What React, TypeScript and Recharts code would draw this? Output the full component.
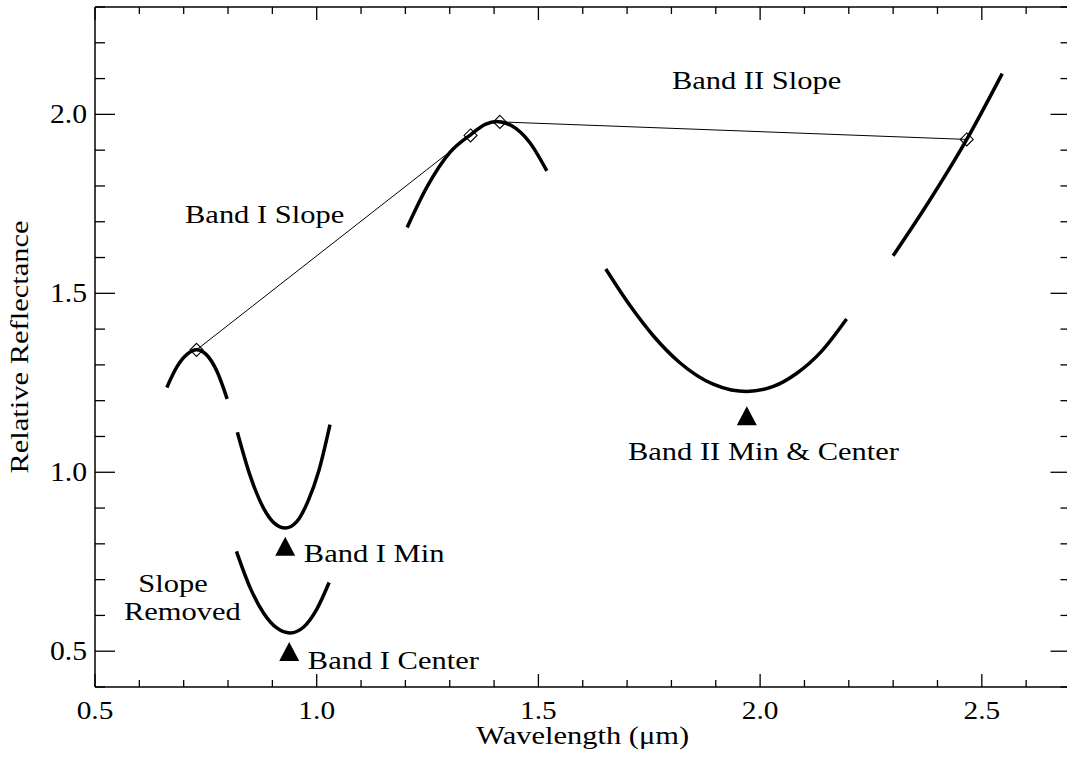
import * as React from 'react';
import { ComposedChart, Line, Scatter, XAxis, YAxis } from 'recharts';

const xTicks = [0.5, 0.6, 0.7, 0.8, 0.9, 1.0, 1.1, 1.2, 1.3, 1.4, 1.5, 1.6, 1.7, 1.8, 1.9, 2.0, 2.1, 2.2, 2.3, 2.4, 2.5, 2.6, 2.7];
const yTicks = [0.4, 0.5, 0.6, 0.7, 0.8, 0.9, 1.0, 1.1, 1.2, 1.3, 1.4, 1.5, 1.6, 1.7, 1.8, 1.9, 2.0, 2.1, 2.2, 2.3];

// spectrum pieces (wavelength in um, relative reflectance)
const bandIShoulder = [
  { x: 0.662, y: 1.237 }, { x: 0.685, y: 1.295 }, { x: 0.708, y: 1.330 }, { x: 0.729, y: 1.342 },
  { x: 0.750, y: 1.330 }, { x: 0.775, y: 1.282 }, { x: 0.798, y: 1.205 },
];
const bandIAbsorption = [
  { x: 0.821, y: 1.112 }, { x: 0.850, y: 0.990 }, { x: 0.880, y: 0.900 }, { x: 0.905, y: 0.857 },
  { x: 0.929, y: 0.844 }, { x: 0.955, y: 0.862 }, { x: 0.980, y: 0.918 }, { x: 1.005, y: 1.005 },
  { x: 1.030, y: 1.133 },
];
const bandIRemoved = [
  { x: 0.819, y: 0.779 }, { x: 0.850, y: 0.677 }, { x: 0.880, y: 0.607 }, { x: 0.910, y: 0.565 },
  { x: 0.940, y: 0.551 }, { x: 0.970, y: 0.567 }, { x: 1.000, y: 0.617 }, { x: 1.028, y: 0.692 },
];
const midShoulder = [
  { x: 1.204, y: 1.684 }, { x: 1.250, y: 1.800 }, { x: 1.300, y: 1.893 }, { x: 1.347, y: 1.943 },
  { x: 1.380, y: 1.972 }, { x: 1.406, y: 1.980 }, { x: 1.440, y: 1.968 }, { x: 1.480, y: 1.922 },
  { x: 1.519, y: 1.842 },
];
const bandIIAbsorption = [
  { x: 1.652, y: 1.568 }, { x: 1.707, y: 1.465 }, { x: 1.760, y: 1.380 }, { x: 1.819, y: 1.306 },
  { x: 1.894, y: 1.246 }, { x: 1.935, y: 1.230 }, { x: 1.970, y: 1.226 }, { x: 2.030, y: 1.240 },
  { x: 2.082, y: 1.276 }, { x: 2.140, y: 1.340 }, { x: 2.195, y: 1.428 },
];
const longShoulder = [
  { x: 2.300, y: 1.605 }, { x: 2.380, y: 1.755 }, { x: 2.466, y: 1.930 }, { x: 2.546, y: 2.114 },
];

const bandISlope = [{ x: 0.729, y: 1.342 }, { x: 1.347, y: 1.941 }];
const bandIISlope = [{ x: 1.413, y: 1.979 }, { x: 2.466, y: 1.930 }];

const centerMarks = [{ x: 0.929, y: 0.793 }, { x: 0.938, y: 0.499 }, { x: 1.970, y: 1.158 }];

const notes = [
  { x: 0.703, y: 1.697, text: 'Band I Slope', anchor: 'start' },
  { x: 1.801, y: 2.071, text: 'Band II Slope', anchor: 'start' },
  { x: 1.702, y: 1.035, text: 'Band II Min & Center', anchor: 'start' },
  { x: 0.971, y: 0.750, text: 'Band I Min', anchor: 'start' },
  { x: 0.980, y: 0.451, text: 'Band I Center', anchor: 'start' },
  { x: 0.676, y: 0.666, text: 'Slope', anchor: 'middle' },
  { x: 0.697, y: 0.588, text: 'Removed', anchor: 'middle' },
];

const FONT = '"Liberation Serif", "Times New Roman", serif';
const INK = '#000';

const Stretched = ({ x, y, anchor = 'start', rotate = 0, size = 25, stretch = 1.22, children }: any) => (
  <text
    transform={`translate(${x} ${y})${rotate ? ` rotate(${rotate})` : ''} scale(${stretch} 1)`}
    textAnchor={anchor}
    fontFamily={FONT}
    fontSize={size}
    fill={INK}
  >
    {children}
  </text>
);

const isMajor = (v: number) => Math.abs(v * 2 - Math.round(v * 2)) < 1e-6;

const BottomTick = ({ x, y, payload }: any) => {
  const major = isMajor(payload.value);
  return (
    <g>
      <line x1={x} y1={y} x2={x} y2={y - (major ? 13 : 7)} stroke={INK} strokeWidth={1.3} />
      {major && (
        <Stretched x={x} y={y + 32} anchor="middle" size={26} stretch={1.13}>{payload.value.toFixed(1)}</Stretched>
      )}
    </g>
  );
};

const TopTick = ({ x, y, payload }: any) => (
  <line x1={x} y1={y} x2={x} y2={y + (isMajor(payload.value) ? 13 : 7)} stroke={INK} strokeWidth={1.3} />
);

const LeftTick = ({ x, y, payload }: any) => {
  const major = isMajor(payload.value);
  return (
    <g>
      <line x1={x} y1={y} x2={x + (major ? 20 : 10)} y2={y} stroke={INK} strokeWidth={1.3} />
      {major && (
        <Stretched x={x - 8} y={y + 9} anchor="end" size={27} stretch={1.1}>{payload.value.toFixed(1)}</Stretched>
      )}
    </g>
  );
};

const RightTick = ({ x, y, payload }: any) => (
  <line x1={x} y1={y} x2={x - (isMajor(payload.value) ? 20 : 10)} y2={y} stroke={INK} strokeWidth={1.3} />
);

const diamond = (props: any) => {
  const { cx, cy, index } = props;
  const r = 6.5;
  return (
    <path
      key={`d-${index}`}
      d={`M${cx},${cy - r}L${cx + r},${cy}L${cx},${cy + r}L${cx - r},${cy}Z`}
      fill="none"
      stroke={INK}
      strokeWidth={1.1}
    />
  );
};

const triangle = (props: any) => {
  const { cx, cy } = props;
  return <path d={`M${cx},${cy - 9.5}L${cx + 10},${cy + 9.5}L${cx - 10},${cy + 9.5}Z`} fill={INK} />;
};

const note = (props: any) => (
  <Stretched x={props.cx} y={props.cy} anchor={props.payload.anchor}>{props.payload.text}</Stretched>
);

const xTitle = (props: any) => {
  const vb = props.viewBox;
  return <Stretched x={vb.x + vb.width / 2} y={vb.y + 57} anchor="middle">Wavelength (μm)</Stretched>;
};

const yTitle = (props: any) => {
  const vb = props.viewBox;
  return <Stretched x={28} y={vb.y + vb.height / 2} anchor="middle" rotate={-90}>Relative Reflectance</Stretched>;
};

const curves = [bandIShoulder, bandIAbsorption, bandIRemoved, midShoulder, bandIIAbsorption, longShoulder];

export default function App() {
  return (
    <div style={{ position: 'absolute', left: 0, top: 0, width: 1067, height: 759, overflow: 'hidden', background: '#fff' }}>
      <ComposedChart width={1072} height={759} margin={{ top: 6, right: 0.5, bottom: 0, left: 0 }}>
        <XAxis
          xAxisId={0} dataKey="x" type="number" domain={[0.5, 2.7]} allowDataOverflow ticks={xTicks} interval={0}
          height={72} tickSize={0} tickMargin={0} tickLine={false} tick={BottomTick}
          axisLine={{ stroke: INK, strokeWidth: 1.5 }} label={{ content: xTitle }}
        />
        <XAxis
          xAxisId="top" orientation="top" dataKey="x" type="number" domain={[0.5, 2.7]} allowDataOverflow ticks={xTicks}
          interval={0} height={1} tickSize={0} tickMargin={0} tickLine={false} tick={TopTick}
          axisLine={{ stroke: INK, strokeWidth: 1.5 }}
        />
        <YAxis
          yAxisId={0} dataKey="y" type="number" domain={[0.4, 2.3]} allowDataOverflow ticks={yTicks} interval={0}
          width={95} tickSize={0} tickMargin={0} tickLine={false} tick={LeftTick}
          axisLine={{ stroke: INK, strokeWidth: 1.5 }} label={{ content: yTitle }}
        />
        <YAxis
          yAxisId="r" orientation="right" dataKey="y" type="number" domain={[0.4, 2.3]} allowDataOverflow ticks={yTicks}
          interval={0} width={1} tickSize={0} tickMargin={0} tickLine={false} tick={RightTick}
          axisLine={{ stroke: INK, strokeWidth: 1.5 }}
        />

        {curves.map((c, i) => (
          <Line
            key={`curve-${i}`} data={c} dataKey="y" type="monotone" stroke={INK} strokeWidth={3.5}
            dot={false} activeDot={false} isAnimationActive={false}
          />
        ))}
        <Line data={bandISlope} dataKey="y" type="linear" stroke={INK} strokeWidth={1} dot={diamond} activeDot={false} isAnimationActive={false} />
        <Line data={bandIISlope} dataKey="y" type="linear" stroke={INK} strokeWidth={1} dot={diamond} activeDot={false} isAnimationActive={false} />
        <Scatter data={centerMarks} shape={triangle} isAnimationActive={false} />
        <Scatter data={notes} shape={note} isAnimationActive={false} />
      </ComposedChart>
    </div>
  );
}
